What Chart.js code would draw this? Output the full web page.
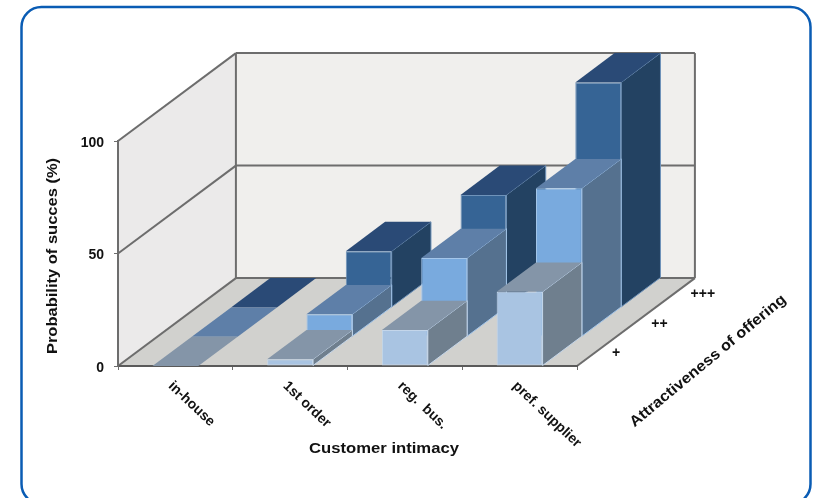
<!DOCTYPE html>
<html>
<head>
<meta charset="utf-8">
<style>
  html, body { margin: 0; background: #fff; }
  canvas { display: block; }
</style>
<script src="https://cdn.jsdelivr.net/npm/chart.js@4"></script>
</head>
<body>
<canvas id="chart" width="833" height="498"></canvas>
<script>
//categories and values, one array per depth row (front to back)
const categories = ["in-house", "1st order", "reg.  bus.", "pref. supplier"];
const rows = ["+", "++", "+++"];
const rowLow = [0, 3, 16, 33];
const rowMid = [0, 10, 35, 66];
const rowHigh = [0, 25, 50, 100];
const yTicks = [0, 50, 100];

//face colours per row: front, top, side, edge
const faces = [
  { front: "#a9c4e2", top: "#8495a8", side: "#6f7f8e", edge: "#c4d6ea" },
  { front: "#79aade", top: "#5e7fa8", side: "#55718f", edge: "#a4c6ea" },
  { front: "#366495", top: "#2a4a76", side: "#234262", edge: "#6f93ba" },
];

//oblique projection, one row of depth moves this far on the canvas
const depthX = 39.3;
const depthY = -29.3;
const rowCount = rows.length;

const titleFont = 'bold 15px "Liberation Sans"';
const labelFont = 'bold 14px "Liberation Sans"';

function polygon(ctx, points, fill, stroke) {
  ctx.beginPath();
  points.forEach(([x, y], i) => (i ? ctx.lineTo(x, y) : ctx.moveTo(x, y)));
  ctx.closePath();
  if (fill) {
    ctx.fillStyle = fill;
    ctx.fill();
  }
  if (stroke) {
    ctx.strokeStyle = stroke;
    ctx.lineWidth = 1;
    ctx.stroke();
  }
}

function line(ctx, x1, y1, x2, y2) {
  ctx.beginPath();
  ctx.moveTo(x1, y1);
  ctx.lineTo(x2, y2);
  ctx.stroke();
}

//stretch widens the text along its own baseline
function rotatedText(ctx, text, x, y, angle, align, font, stretch = 1) {
  ctx.save();
  ctx.translate(x, y);
  ctx.rotate(angle);
  ctx.scale(stretch, 1);
  ctx.textAlign = align;
  ctx.textBaseline = "middle";
  ctx.fillStyle = "#111";
  ctx.font = font;
  ctx.fillText(text, 0, 0);
  ctx.restore();
}

//rounded frame around the whole figure, runs off the bottom of the page
function drawFrame(ctx) {
  ctx.save();
  ctx.strokeStyle = "#0a5cb4";
  ctx.lineWidth = 2.5;
  ctx.beginPath();
  ctx.roundRect(21.5, 7, 789, 497, 20);
  ctx.stroke();
  ctx.restore();
}

//back wall, left wall, floor and the gridlines on the walls
const wallsPlugin = {
  id: "walls",
  beforeDraw(chart) {
    const { ctx, chartArea: a, scales } = chart;
    const dx = depthX * rowCount;
    const dy = depthY * rowCount;
    drawFrame(ctx);
    ctx.save();
    polygon(ctx, [[a.left + dx, a.top + dy], [a.right + dx, a.top + dy], [a.right + dx, a.bottom + dy], [a.left + dx, a.bottom + dy]], "#f0efed");
    polygon(ctx, [[a.left, a.top], [a.left + dx, a.top + dy], [a.left + dx, a.bottom + dy], [a.left, a.bottom]], "#ebeaea");
    polygon(ctx, [[a.left, a.bottom], [a.right, a.bottom], [a.right + dx, a.bottom + dy], [a.left + dx, a.bottom + dy]], "#d1d1ce");
    ctx.strokeStyle = "#6d6d6d";
    ctx.lineWidth = 2;
    yTicks.forEach((v) => {
      const y = scales.y.getPixelForValue(v);
      line(ctx, a.left, y, a.left + dx, y + dy);
      line(ctx, a.left + dx, y + dy, a.right + dx, y + dy);
    });
    line(ctx, a.left + dx, a.top + dy, a.left + dx, a.bottom + dy);
    line(ctx, a.right + dx, a.top + dy, a.right + dx, a.bottom + dy);
    line(ctx, a.right, a.bottom, a.right + dx, a.bottom + dy);
    ctx.restore();
  },
  //each row is shifted back, the library draws its front faces, top and side go first
  beforeDatasetDraw(chart, args) {
    const { ctx } = chart;
    const row = args.index;
    const face = faces[row];
    ctx.save();
    ctx.translate(depthX * row, depthY * row);
    args.meta.data.forEach((bar) => {
      const { x, y, base, width } = bar.getProps(["x", "y", "base", "width"], true);
      const l = x - width / 2;
      const r = x + width / 2;
      polygon(ctx, [[r, y], [r + depthX, y + depthY], [r + depthX, base + depthY], [r, base]], face.side, base > y ? face.edge : null);
      polygon(ctx, [[l, y], [l + depthX, y + depthY], [r + depthX, y + depthY], [r, y]], face.top);
    });
  },
  afterDatasetDraw(chart) {
    chart.ctx.restore();
  },
  //text that has no place on a plain cartesian axis
  afterDraw(chart) {
    const { ctx, chartArea: a, scales } = chart;
    categories.forEach((label, i) => {
      rotatedText(ctx, label, scales.x.getPixelForTick(i) - 5, a.bottom + 18, 0.76, "left", labelFont);
    });
    rows.forEach((label, i) => {
      rotatedText(ctx, label, a.right + 35 + depthX * i, a.bottom - 13 + depthY * i, 0, "left", labelFont);
    });
    rotatedText(ctx, "Probability of succes (%)", 53, 256, -Math.PI / 2, "center", titleFont, 1.1);
    rotatedText(ctx, "Customer intimacy", 384, 449, 0, "center", titleFont, 1.11);
    rotatedText(ctx, "Attractiveness of offering", 708, 361, -0.693, "center", titleFont, 1.09);
  },
};

new Chart(document.getElementById("chart"), {
  type: "bar",
  data: {
    labels: categories,
    datasets: [rowLow, rowMid, rowHigh].map((values, i) => ({
      label: rows[i],
      data: values,
      backgroundColor: faces[i].front,
      borderColor: faces[i].edge,
      borderWidth: (c) => (c.raw > 0 ? 1 : 0),
      borderSkipped: false,
      clip: false,
    })),
  },
  options: {
    responsive: false,
    animation: false,
    events: [],
    layout: { padding: { left: 0, right: 256, top: 141, bottom: 0 } },
    plugins: { legend: { display: false }, tooltip: { enabled: false } },
    datasets: { bar: { grouped: false, barPercentage: 0.4, categoryPercentage: 1 } },
    scales: {
      x: {
        afterFit(scale) {
          scale.height = 132;
        },
        ticks: { display: false },
        grid: { drawOnChartArea: false, tickLength: 4, color: "#6d6d6d" },
        border: { color: "#5a5a5a", width: 2 },
      },
      y: {
        min: 0,
        max: 100,
        afterFit(scale) {
          scale.width = 118;
        },
        afterBuildTicks(scale) {
          scale.ticks = yTicks.map((value) => ({ value }));
        },
        ticks: {
          padding: 10,
          labelOffset: 2,
          color: "#111",
          font: { family: "Liberation Sans", weight: "bold", size: 14 },
        },
        grid: { drawOnChartArea: false, tickLength: 4, color: "#6d6d6d" },
        border: { color: "#6d6d6d", width: 2 },
      },
    },
  },
  plugins: [wallsPlugin],
});
</script>
</body>
</html>
